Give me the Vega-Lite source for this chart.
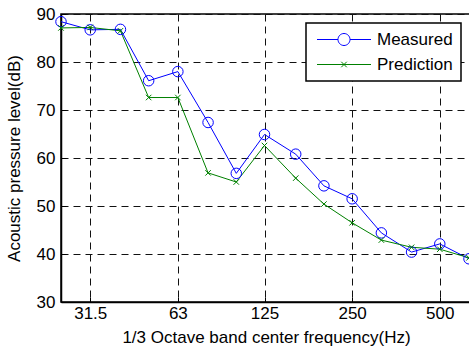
{
  "$schema": "https://vega.github.io/schema/vega-lite/v6.json",
  "autosize": "none",
  "padding": {"left": 61, "top": 14, "right": 0, "bottom": 47},
  "width": 410,
  "height": 288,
  "background": "white",
  "config": {
    "font": "Liberation Sans",
    "view": {"stroke": "black", "strokeWidth": 1.5},
    "axis": {
      "domainColor": "black",
      "domainWidth": 1.5,
      "tickColor": "black",
      "tickSize": -5,
      "tickWidth": 1,
      "labelFont": "Liberation Sans",
      "labelFontSize": 17,
      "labelColor": "black",
      "titleFont": "Liberation Sans",
      "titleFontSize": 17,
      "titleFontWeight": "normal",
      "titleColor": "black",
      "grid": true,
      "gridColor": "#111111",
      "gridOpacity": 1,
      "gridWidth": 1,
      "gridDash": [7, 5]
    }
  },
  "data": {
    "values": [
      {"f": 25, "series": "Measured", "level": 88.4},
      {"f": 31.5, "series": "Measured", "level": 86.7},
      {"f": 40, "series": "Measured", "level": 86.8},
      {"f": 50, "series": "Measured", "level": 76.1},
      {"f": 63, "series": "Measured", "level": 78.0},
      {"f": 80, "series": "Measured", "level": 67.4},
      {"f": 100, "series": "Measured", "level": 56.8},
      {"f": 125, "series": "Measured", "level": 64.9},
      {"f": 160, "series": "Measured", "level": 60.8},
      {"f": 200, "series": "Measured", "level": 54.2},
      {"f": 250, "series": "Measured", "level": 51.5},
      {"f": 315, "series": "Measured", "level": 44.4},
      {"f": 400, "series": "Measured", "level": 40.4},
      {"f": 500, "series": "Measured", "level": 42.1},
      {"f": 630, "series": "Measured", "level": 39.0},
      {"f": 25, "series": "Prediction", "level": 87.1},
      {"f": 31.5, "series": "Prediction", "level": 87.2},
      {"f": 40, "series": "Prediction", "level": 86.5},
      {"f": 50, "series": "Prediction", "level": 72.6},
      {"f": 63, "series": "Prediction", "level": 72.6},
      {"f": 80, "series": "Prediction", "level": 56.9},
      {"f": 100, "series": "Prediction", "level": 55.0},
      {"f": 125, "series": "Prediction", "level": 62.6},
      {"f": 160, "series": "Prediction", "level": 55.8},
      {"f": 200, "series": "Prediction", "level": 50.4},
      {"f": 250, "series": "Prediction", "level": 46.5},
      {"f": 315, "series": "Prediction", "level": 42.9},
      {"f": 400, "series": "Prediction", "level": 41.4},
      {"f": 500, "series": "Prediction", "level": 41.0},
      {"f": 630, "series": "Prediction", "level": 39.2}
    ]
  },
  "encoding": {
    "x": {
      "field": "f",
      "type": "quantitative",
      "scale": {"type": "log", "domain": [25, 640], "nice": false},
      "axis": {
        "values": [31.5, 63, 125, 250, 500],
        "format": "~g",
        "labelPadding": 8,
        "labelFlush": false,
        "labelOverlap": false,
        "title": "1/3 Octave band center frequency(Hz)",
        "titlePadding": 8
      }
    },
    "y": {
      "field": "level",
      "type": "quantitative",
      "scale": {"domain": [30, 90], "nice": false, "zero": false},
      "axis": {
        "values": [30, 40, 50, 60, 70, 80, 90],
        "labelPadding": 11,
        "title": "Acoustic pressure level(dB)",
        "titlePadding": 13
      }
    },
    "color": {
      "field": "series",
      "type": "nominal",
      "scale": {"domain": ["Measured", "Prediction"], "range": ["#0000ff", "#008000"]},
      "legend": {
        "title": null,
        "orient": "none",
        "legendX": 245,
        "legendY": 9,
        "direction": "vertical",
        "fillColor": "white",
        "strokeColor": "black",
        "padding": 8,
        "rowPadding": 7,
        "labelFont": "Liberation Sans",
        "labelFontSize": 17,
        "labelColor": "black",
        "labelLimit": 200,
        "symbolSize": 100,
        "symbolOffset": 21.5,
        "labelOffset": 24.5,
        "encode": {
          "legend": {"update": {"strokeWidth": {"value": 1.5}}},
          "symbols": {
            "update": {
              "shape": {"signal": "datum.value === 'Measured' ? 'M-5.4,0L-1.2,0M1.2,0L5.4,0M1.2,0A1.2,1.2,0,1,1,-1.2,0A1.2,1.2,0,1,1,1.2,0' : 'M-5.4,0L5.4,0M-0.55,-0.55L0.55,0.55M-0.55,0.55L0.55,-0.55'"},
              "size": {"value": 100},
              "fill": {"value": "transparent"},
              "strokeWidth": {"value": 1},
              "strokeDash": {"value": []},
              "opacity": {"value": 1}
            }
          }
        }
      }
    }
  },
  "layer": [
    {
      "mark": {"type": "line", "strokeWidth": 1}
    },
    {
      "transform": [{"filter": "datum.series === 'Measured'"}],
      "mark": {"type": "point", "shape": "circle", "size": 110, "filled": false, "strokeWidth": 1, "opacity": 1}
    },
    {
      "transform": [{"filter": "datum.series === 'Prediction'"}],
      "mark": {"type": "point", "shape": "M-1,-1L1,1M-1,1L1,-1", "size": 30, "filled": false, "strokeWidth": 1, "opacity": 1}
    }
  ]
}
